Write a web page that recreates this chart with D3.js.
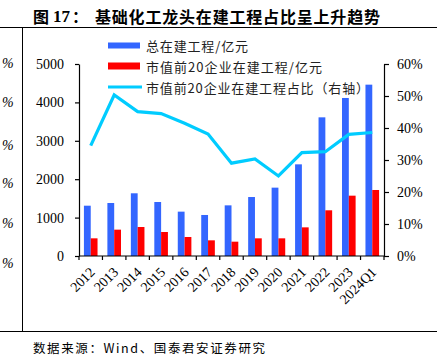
<!DOCTYPE html>
<html><head><meta charset="utf-8">
<script src="https://cdn.jsdelivr.net/npm/d3@7"></script>
<style>
html,body{margin:0;padding:0;background:#fff;}
svg{display:block;}
</style></head>
<body>
<script>
const categories = ["2012","2013","2014","2015","2016","2017","2018","2019","2020","2021","2022","2023","2024Q1"];
const totalCIP = [1310,1380,1633,1406,1155,1068,1319,1536,1780,2387,3611,4115,4462];
const top20CIP = [460,686,755,625,495,408,373,460,460,746,1190,1571,1719];
const top20Share = [34.5,50.3,45.1,44.5,41.5,38.1,29.0,30.3,25.0,32.3,32.6,38.0,38.6];
const leftTicks = [0,1000,2000,3000,4000,5000];
const rightTicks = [0,10,20,30,40,50,60];
const seriesNames = ["总在建工程/亿元","市值前20企业在建工程/亿元","市值前20企业在建工程占比（右轴）"];
const titleParts = ["图","17：","基础化工龙头在建工程占比呈上升趋势"];
const sourceText = "数据来源：Wind、国泰君安证券研究";
const leftCutMarks = ["%","%","%","%","%","%"];

const W = 437, H = 356;
const plot = {left:79, right:384, top:64, bottom:256};
const cjk = "'Noto Sans CJK SC', sans-serif";
const serif = "'Liberation Serif', 'Times New Roman', serif";
const BLUE = "#3366ff", RED = "#ff0000", CYAN = "#00ccff";

const svg = d3.select("body").append("svg").attr("width", W).attr("height", H);

// frame lines
svg.append("line").attr("x1",0).attr("x2",W).attr("y1",27.5).attr("y2",27.5).attr("stroke","#000").attr("stroke-width",1);
svg.append("line").attr("x1",22.5).attr("x2",22.5).attr("y1",27.5).attr("y2",332).attr("stroke","#000").attr("stroke-width",1);
svg.append("line").attr("x1",0).attr("x2",W).attr("y1",331.5).attr("y2",331.5).attr("stroke","#000").attr("stroke-width",1);

// cut-off marks on left
const cutY = [63,102,145,183,223,263];
svg.selectAll("text.cut").data(leftCutMarks).join("text").attr("class","cut")
  .attr("x",2).attr("y",(d,i)=>cutY[i]).attr("dominant-baseline","central")
  .attr("font-family",serif).attr("font-style","italic").attr("font-size",14).text(d=>d);

// title
const title = svg.append("text").attr("y",15.5).attr("dominant-baseline","central")
  .attr("font-family",cjk).attr("font-weight","bold").attr("font-size",16).attr("fill","#000");
title.append("tspan").attr("x",33).text(titleParts[0]);
title.append("tspan").attr("x",53).attr("font-family",serif).attr("font-size",17).text("17");
title.append("tspan").attr("x",72).text("：");
title.append("tspan").attr("x",95).attr("textLength",285).attr("lengthAdjust","spacing").text(titleParts[2]);

// scales
const x = d3.scaleBand().domain(categories).range([plot.left, plot.right]).paddingInner(0.42).paddingOuter(0.21);
const xs = d3.scaleBand().domain(["total","top20"]).range([0, x.bandwidth()]);
const yL = d3.scaleLinear().domain([0,5000]).range([plot.bottom, plot.top]);
const yR = d3.scaleLinear().domain([0,60]).range([plot.bottom, plot.top]);

// bars
const g = svg.append("g");
g.selectAll("rect.total").data(totalCIP).join("rect").attr("class","total")
  .attr("x",(d,i)=>x(categories[i])+xs("total")).attr("width",xs.bandwidth())
  .attr("y",d=>yL(d)).attr("height",d=>yL(0)-yL(d)).attr("fill",BLUE);
g.selectAll("rect.top20").data(top20CIP).join("rect").attr("class","top20")
  .attr("x",(d,i)=>x(categories[i])+xs("top20")).attr("width",xs.bandwidth())
  .attr("y",d=>yL(d)).attr("height",d=>yL(0)-yL(d)).attr("fill",RED);

// line
const line = d3.line().x((d,i)=>x(categories[i])+x.bandwidth()/2).y(d=>yR(d));
svg.append("path").datum(top20Share).attr("d",line).attr("fill","none")
  .attr("stroke",CYAN).attr("stroke-width",3.2).attr("stroke-linejoin","miter");

// axes
const axisStyle = sel => {
  sel.selectAll("path,line").attr("stroke","#000").attr("stroke-width",1.2);
  sel.selectAll("text").attr("font-family",serif).attr("font-size",14).attr("fill","#000");
};
const gL = svg.append("g").attr("transform",`translate(${plot.left},0)`)
  .call(d3.axisLeft(yL).tickValues(leftTicks).tickSize(4).tickSizeOuter(0).tickPadding(11).tickFormat(d3.format("d")));
axisStyle(gL);
const gR = svg.append("g").attr("transform",`translate(${plot.right},0)`)
  .call(d3.axisRight(yR).tickValues(rightTicks).tickSize(5).tickSizeOuter(0).tickPadding(8).tickFormat(d=>d+"%"));
axisStyle(gR);

// x axis with ticks at category boundaries
const bounds = d3.range(categories.length+1).map(i=>plot.left + i*(plot.right-plot.left)/categories.length);
const gX = svg.append("g");
gX.append("line").attr("x1",plot.left).attr("x2",plot.right).attr("y1",plot.bottom).attr("y2",plot.bottom)
  .attr("stroke","#000").attr("stroke-width",1.2);
gX.selectAll("line.tk").data(bounds).join("line").attr("class","tk")
  .attr("x1",d=>d).attr("x2",d=>d).attr("y1",plot.bottom).attr("y2",plot.bottom+4)
  .attr("stroke","#000").attr("stroke-width",1.2);
gX.selectAll("text").data(categories).join("text")
  .attr("transform",d=>`translate(${x(d)+x.bandwidth()/2+5},${plot.bottom+17}) rotate(-45)`)
  .attr("text-anchor","end").attr("font-family",serif).attr("font-size",14).attr("fill","#000").text(d=>d);

// legend
const lg = svg.append("g");
const lgY = [45.5, 66, 87];
const lgLen = [102, 176, 223];
lg.append("rect").attr("x",108).attr("y",lgY[0]-3).attr("width",32).attr("height",6).attr("fill",BLUE);
lg.append("rect").attr("x",108).attr("y",lgY[1]-3.5).attr("width",32).attr("height",7).attr("fill",RED);
lg.append("line").attr("x1",108).attr("x2",142).attr("y1",lgY[2]).attr("y2",lgY[2]).attr("stroke",CYAN).attr("stroke-width",3.2);
lg.selectAll("text").data(seriesNames).join("text")
  .attr("x",146).attr("y",(d,i)=>lgY[i]).attr("dominant-baseline","central")
  .attr("textLength",(d,i)=>lgLen[i]).attr("lengthAdjust","spacing")
  .attr("font-family",cjk).attr("font-size",13).attr("fill","#222").text(d=>d);

// source
svg.append("text").attr("x",33).attr("y",347).attr("dominant-baseline","central")
  .attr("textLength",232).attr("lengthAdjust","spacing")
  .attr("font-family",cjk).attr("font-size",12.5).attr("fill","#000").text(sourceText);
</script>
</body></html>
